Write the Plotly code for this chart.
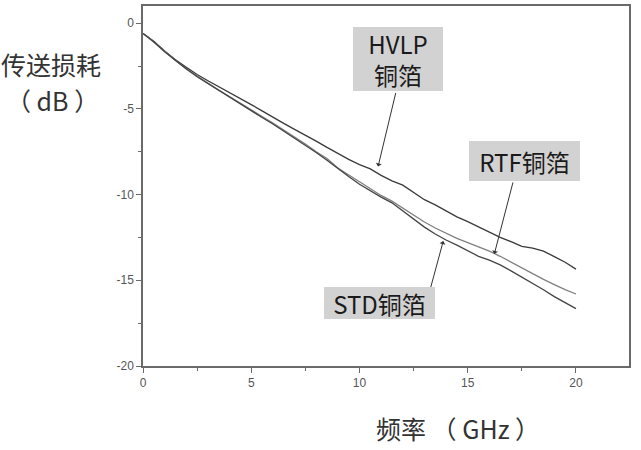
import plotly.graph_objects as go

freq = [0, 0.25, 0.5, 1.0, 1.5, 2.0, 2.5, 3.0, 3.5, 4.0, 4.5, 5.0, 5.5, 6.0, 6.5, 7.0,
        7.5, 8.0, 8.5, 9.0, 9.5, 10.0, 10.5, 11.0, 11.5, 12.0, 12.5, 13.0, 13.5, 14.0,
        14.5, 15.0, 15.5, 16.0, 16.5, 17.0, 17.5, 18.0, 18.5, 19.0, 19.5, 20.0]

hvlp = [-0.6, -0.8, -1.05, -1.62, -2.13, -2.58, -3.0, -3.36, -3.7, -4.05, -4.38, -4.75,
        -5.12, -5.5, -5.85, -6.2, -6.52, -6.88, -7.25, -7.6, -7.95, -8.25, -8.5, -8.88,
        -9.2, -9.45, -9.85, -10.3, -10.6, -10.95, -11.3, -11.58, -11.9, -12.22, -12.5,
        -12.75, -13.02, -13.12, -13.3, -13.62, -13.95, -14.35]

rtf = [-0.6, -0.82, -1.1, -1.66, -2.18, -2.66, -3.1, -3.5, -3.9, -4.3, -4.7, -5.08,
       -5.45, -5.83, -6.23, -6.65, -7.05, -7.5, -7.9, -8.45, -8.85, -9.28, -9.65, -10.05,
       -10.38, -10.8, -11.2, -11.6, -11.95, -12.25, -12.55, -12.8, -13.05, -13.3, -13.6,
       -13.95, -14.3, -14.65, -14.95, -15.25, -15.55, -15.8]

std = [-0.6, -0.83, -1.1, -1.67, -2.2, -2.68, -3.13, -3.53, -3.93, -4.33, -4.74, -5.12,
       -5.5, -5.88, -6.3, -6.7, -7.1, -7.55, -8.0, -8.5, -8.95, -9.4, -9.8, -10.15,
       -10.48, -10.95, -11.45, -11.9, -12.3, -12.65, -12.95, -13.3, -13.6, -13.82, -14.1,
       -14.45, -14.8, -15.2, -15.55, -15.95, -16.3, -16.65]

x_ticks = [0, 5, 10, 15, 20]
x_ticktext = ["0", "5", "10", "15", "20"]
y_ticks = [0, -5, -10, -15, -20]
y_ticktext = ["0", "-5", "-10", "-15", "-20"]

CJK = "Noto Sans CJK SC"

fig = go.Figure()
fig.add_trace(go.Scatter(x=freq, y=hvlp, mode="lines", name="HVLP铜箔",
                         line=dict(color="#3a3a3a", width=1.3)))
fig.add_trace(go.Scatter(x=freq, y=rtf, mode="lines", name="RTF铜箔",
                         line=dict(color="#808080", width=1.3)))
fig.add_trace(go.Scatter(x=freq, y=std, mode="lines", name="STD铜箔",
                         line=dict(color="#444444", width=1.3)))

axis_common = dict(
    showgrid=False, zeroline=False, showline=True, linecolor="#6a6a6a", linewidth=1.5,
    mirror=True, ticks="outside", ticklen=5, tickwidth=1, tickcolor="#6a6a6a",
    tickfont=dict(family="Liberation Sans", size=12, color="#555555"),
)

fig.update_xaxes(range=[0, 22.45], tickvals=x_ticks, ticktext=x_ticktext,
                 minor=dict(ticks="outside", dtick=2.5, tick0=0, ticklen=3,
                            tickcolor="#6a6a6a"),
                 **axis_common)
fig.update_yaxes(range=[-20, 1], tickvals=y_ticks, ticktext=y_ticktext,
                 minor=dict(ticks="outside", dtick=2.5, tick0=0, ticklen=3,
                            tickcolor="#6a6a6a"),
                 **axis_common)

label_font = dict(family=CJK, size=25, color="#333333")
box_font = dict(family=CJK, size=24, color="#1a1a1a")
box_bg = "#d2d2d2"

annotations = [
    # axis titles
    dict(text="传送损耗", xref="paper", yref="paper", x=-0.19, y=0.838,
         showarrow=False, font=label_font, xanchor="center", yanchor="middle"),
    dict(text="（ dB ）", xref="paper", yref="paper", x=-0.187, y=0.738,
         showarrow=False, font=label_font, xanchor="center", yanchor="middle"),
    dict(text="频率 （ GHz ）", xref="paper", yref="paper", x=0.648, y=-0.172,
         showarrow=False, font=label_font, xanchor="center", yanchor="middle"),
    # arrows
    dict(text="", x=10.86, y=-8.36, ax=18, ay=-75, showarrow=True, arrowhead=1,
         arrowsize=1, arrowwidth=1, arrowcolor="#333333", standoff=0),
    dict(text="", x=16.23, y=-13.46, ax=19, ay=-73, showarrow=True, arrowhead=1,
         arrowsize=1, arrowwidth=1, arrowcolor="#333333", standoff=0),
    dict(text="", x=13.87, y=-12.71, ax=-13, ay=48, showarrow=True, arrowhead=1,
         arrowsize=1, arrowwidth=1, arrowcolor="#333333", standoff=0),
    # labelled boxes
    dict(text="HVLP<br>铜箔", x=10.86, y=-8.36, ax=20, ay=-107, showarrow=True,
         arrowwidth=0.1, arrowcolor="rgba(0,0,0,0)", font=box_font, bgcolor=box_bg,
         width=90, height=64, borderpad=0, borderwidth=0),
    dict(text="RTF铜箔", x=16.23, y=-13.46, ax=30, ay=-93, showarrow=True,
         arrowwidth=0.1, arrowcolor="rgba(0,0,0,0)", font=box_font, bgcolor=box_bg,
         width=111, height=40, borderpad=0, borderwidth=0),
    dict(text="STD铜箔", x=13.87, y=-12.71, ax=-64, ay=62, showarrow=True,
         arrowwidth=0.1, arrowcolor="rgba(0,0,0,0)", font=box_font, bgcolor=box_bg,
         width=111, height=32, borderpad=0, borderwidth=0),
]

fig.update_layout(
    width=641, height=450,
    margin=dict(l=143, r=12, t=4, b=84),
    paper_bgcolor="white", plot_bgcolor="white",
    showlegend=False,
    annotations=annotations,
)

fig.write_html("out.html",
               config={"displayModeBar": False},
               post_script="document.body.style.margin='0';document.body.style.overflow='hidden';")
